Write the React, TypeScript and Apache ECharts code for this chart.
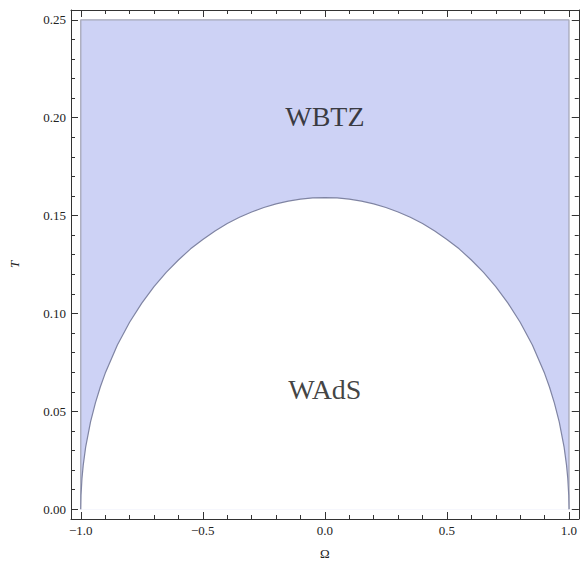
import React, { useEffect, useRef } from "react";
import * as echarts from "echarts";

// Boundary curve (Ω, T)
const omegaValues = [
  -1, -0.999, -0.995, -0.99, -0.98, -0.96, -0.94, -0.92, -0.9, -0.85, -0.8, -0.75, -0.7, -0.65, -0.6,
  -0.55, -0.5, -0.45, -0.4, -0.35, -0.3, -0.25, -0.2, -0.15, -0.1, -0.05, 0, 0.05, 0.1, 0.15, 0.2,
  0.25, 0.3, 0.35, 0.4, 0.45, 0.5, 0.55, 0.6, 0.65, 0.7, 0.75, 0.8, 0.85, 0.9, 0.92, 0.94, 0.96,
  0.98, 0.99, 0.995, 0.999, 1,
];
const tValues = [
  0, 0.0071, 0.0159, 0.0224, 0.0317, 0.0446, 0.0543, 0.0624, 0.0694, 0.0839, 0.0955, 0.1053, 0.1137,
  0.121, 0.1273, 0.133, 0.1378, 0.1421, 0.1459, 0.1491, 0.1518, 0.1541, 0.156, 0.1574, 0.1584,
  0.159, 0.1592, 0.159, 0.1584, 0.1574, 0.156, 0.1541, 0.1518, 0.1491, 0.1459, 0.1421, 0.1378,
  0.133, 0.1273, 0.121, 0.1137, 0.1053, 0.0955, 0.0839, 0.0694, 0.0624, 0.0543, 0.0446, 0.0317,
  0.0224, 0.0159, 0.0071, 0,
];
// Region outline (Ω, T): left edge, top, right edge
const regionOmega = [-1, -1, 1, 1];
const regionT = [0, 0.25, 0.25, 0];

const xMajorTicks = [-1, -0.5, 0, 0.5, 1];
const xMinorTicks = [-1, -0.9, -0.8, -0.7, -0.6, -0.5, -0.4, -0.3, -0.2, -0.1, 0, 0.1, 0.2, 0.3, 0.4, 0.5, 0.6, 0.7, 0.8, 0.9, 1];
const yMajorTicks = [0, 0.05, 0.1, 0.15, 0.2, 0.25];
const yMinorTicks = [
  0, 0.01, 0.02, 0.03, 0.04, 0.05, 0.06, 0.07, 0.08, 0.09, 0.1, 0.11, 0.12, 0.13, 0.14, 0.15, 0.16,
  0.17, 0.18, 0.19, 0.2, 0.21, 0.22, 0.23, 0.24, 0.25,
];
const regionLabels = [
  { name: "WBTZ", omega: 0, t: 0.2005 },
  { name: "WAdS", omega: 0, t: 0.0612 },
];

const FONT = "'Liberation Serif', 'Times New Roman', Times, serif";
const X_MIN = -1.04, X_MAX = 1.04, Y_MIN = -0.005, Y_MAX = 0.255;

function fmtX(v: number) {
  const s = Math.abs(v).toFixed(1);
  return v < -1e-9 ? "\u2212" + s : s;
}

export default function App() {
  const ref = useRef<HTMLDivElement>(null);
  useEffect(() => {
    if (!ref.current) return;
    const chart = echarts.init(ref.current, null, { renderer: "svg" });
    const lineCol = "#333";
    const mkX = (pos: "bottom" | "top", major: boolean, labels: boolean, line: boolean) => ({
      type: "value",
      position: pos,
      min: X_MIN,
      max: X_MAX,
      gridIndex: 0,
      axisLine: { show: line, onZero: false, lineStyle: { color: lineCol, width: 1 } },
      axisTick: {
        show: true,
        inside: true,
        length: major ? 7 : 4,
        customValues: major ? xMajorTicks : xMinorTicks,
        lineStyle: { color: lineCol, width: 1 },
      },
      axisLabel: {
        show: labels,
        customValues: xMajorTicks,
        formatter: (v: number) => fmtX(v),
        fontFamily: FONT,
        fontSize: 13,
        color: "#222",
        margin: 5,
      },
      splitLine: { show: false },
      name: labels ? "Ω" : "",
      nameLocation: "middle",
      nameGap: 28,
      nameTextStyle: { fontFamily: FONT, fontSize: 13, color: "#222" },
    });
    const mkY = (pos: "left" | "right", major: boolean, labels: boolean, line: boolean) => ({
      type: "value",
      position: pos,
      min: Y_MIN,
      max: Y_MAX,
      gridIndex: 0,
      axisLine: { show: line, onZero: false, lineStyle: { color: lineCol, width: 1 } },
      axisTick: {
        show: true,
        inside: true,
        length: major ? 7 : 4,
        customValues: major ? yMajorTicks : yMinorTicks,
        lineStyle: { color: lineCol, width: 1 },
      },
      axisLabel: {
        show: labels,
        customValues: yMajorTicks,
        formatter: (v: number) => v.toFixed(2),
        fontFamily: FONT,
        fontSize: 13,
        color: "#222",
        margin: 5,
      },
      splitLine: { show: false },
      name: labels ? "T" : "",
      nameLocation: "middle",
      nameGap: 50,
      nameRotate: 90,
      nameTextStyle: { fontFamily: FONT, fontSize: 13, color: "#222", fontStyle: "italic" },
    });

    chart.setOption({
      animation: false,
      backgroundColor: "#fff",
      grid: { left: 65, top: 10, width: 516, height: 517, containLabel: false },
      xAxis: [
        mkX("bottom", true, true, true),
        mkX("bottom", false, false, false),
        mkX("top", true, false, true),
        mkX("top", false, false, false),
      ],
      yAxis: [
        mkY("left", true, true, true),
        mkY("left", false, false, false),
        mkY("right", true, false, true),
        mkY("right", false, false, false),
      ],
      series: [
        {
          type: "line",
          xAxisIndex: 0,
          yAxisIndex: 0,
          data: regionOmega.map((o, i) => [o, regionT[i]]),
          symbol: "none",
          lineStyle: { color: "#a6a8b8", width: 1.3 },
          areaStyle: { color: "#cdd2f5", opacity: 1, origin: 0 },
          z: 2,
        },
        {
          type: "line",
          xAxisIndex: 0,
          yAxisIndex: 0,
          data: omegaValues.map((o, i) => [o, tValues[i]]),
          symbol: "none",
          smooth: false,
          lineStyle: { color: "#7f84a3", width: 1.2 },
          areaStyle: { color: "#ffffff", opacity: 1, origin: 0 },
          z: 3,
        },
        {
          type: "scatter",
          xAxisIndex: 0,
          yAxisIndex: 0,
          symbolSize: 0,
          data: regionLabels.map((d) => ({ value: [d.omega, d.t], name: d.name })),
          label: {
            show: true,
            position: "inside",
            formatter: (p: any) => p.name,
            fontFamily: FONT,
            fontSize: 28,
            color: "#111",
          },
          z: 4,
        },
      ],
    });
    return () => chart.dispose();
  }, []);
  return (
    <div
      ref={ref}
      style={{ position: "fixed", left: 0, top: 0, width: 580, height: 565 }}
    />
  );
}
